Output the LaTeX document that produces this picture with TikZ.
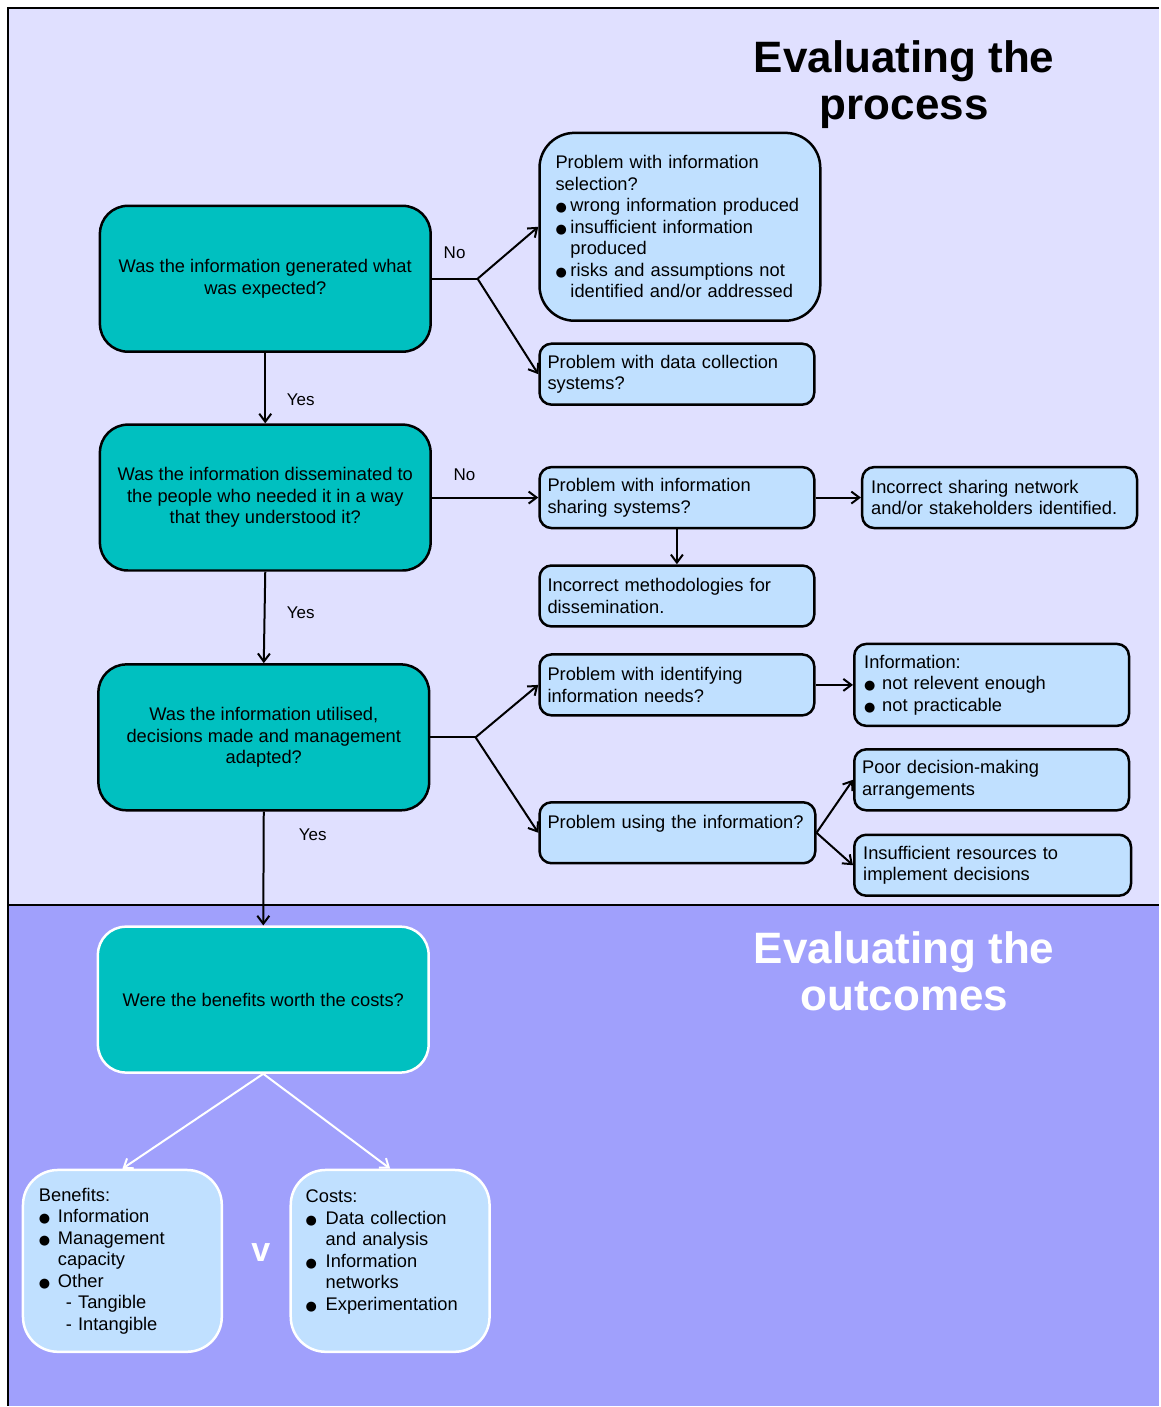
\documentclass[tikz,border=0pt]{standalone}
\usepackage{fontspec}
\setmainfont{Liberation Sans}
\newfontfamily\djv{DejaVu Sans}
\usetikzlibrary{arrows.meta}
\definecolor{upbg}{RGB}{224,224,255}
\definecolor{lowbg}{RGB}{160,160,252}
\definecolor{tealq}{RGB}{0,192,192}
\definecolor{lblue}{RGB}{192,224,255}
\newcommand\bl[1]{\makebox[#1][l]{\djv\fontsize{13}{13}\selectfont ●}}
\begin{document}
\begin{tikzpicture}[x=1pt,y=-1pt,
 body/.style={font=\fontsize{18.3}{21.5}\selectfont},
 qbox/.style={body, draw=black, line width=2.5pt, fill=tealq, rounded corners=28pt, minimum width=331pt, minimum height=146pt, align=center, inner sep=0pt},
 pbox/.style={body, draw=black, line width=2.5pt, fill=lblue, rounded corners=12pt, minimum height=61pt, align=left, inner ysep=0pt, text width=259pt, inner xsep=8pt},
 bbox/.style={body, draw=white, line width=2.5pt, fill=lblue, rounded corners=35pt, minimum height=182pt, align=left, inner ysep=0pt},
 conn/.style={line width=2pt},
 arr/.style={conn, -{Straight Barb[length=8pt,width=12pt]}},
 lbl/.style={font=\fontsize{17}{20}\selectfont},
 title/.style={font=\bfseries\fontsize{44}{47}\selectfont, align=center}
]
\fill[white] (0,0) rectangle (1160,1407);
\fill[upbg] (8,8) rectangle (1160,906);
\fill[lowbg] (8,906) rectangle (1160,1407);
\draw[line width=2.5pt] (8,1407) -- (8,8) -- (1160,8);
\draw[line width=2.5pt] (8,906) -- (1160,906);
\useasboundingbox (0,0) rectangle (1160,1407);

\node[title] (t1) at (905,85) {Evaluating the\\process};
\node[title, text=white] (t2) at (905,972) {Evaluating the\\outcomes};

\node[qbox] (q1) at (265.5,279) {Was the information generated what\\was expected?};
\node[qbox] (q2) at (265.5,498) {Was the information disseminated to\\the people who needed it in a way\\that they understood it?};
\node[qbox] (q3) at (264,738) {Was the information utilised,\\decisions made and management\\adapted?};
\node[qbox, draw=white] (q4) at (263.5,1000.5) {Were the benefits worth the costs?};

\node[pbox, rounded corners=35pt, text width=249pt, inner xsep=16pt, minimum height=188pt] (p1) at (680.5,227) {Problem with information\\selection?\\\bl{15pt}wrong information produced\\\bl{15pt}insufficient information\\\hspace*{15pt}produced\\\bl{15pt}risks and assumptions not\\\hspace*{15pt}identified and/or addressed};
\node[pbox] (p2) at (677.5,374.5) {Problem with data collection\\systems?};
\node[pbox] (p3) at (677.5,498) {Problem with information\\sharing systems?};
\node[pbox, text width=257pt, inner xsep=9pt] (p4) at (1000.5,498) {Incorrect sharing network\\and/or stakeholders identified.};
\node[pbox] (p5) at (677.5,596.5) {Incorrect methodologies for\\dissemination.};
\node[pbox] (p6) at (677.5,685.5) {Problem with identifying\\information needs?};
\node[pbox, text width=255pt, inner xsep=10pt, minimum height=82pt] (p7) at (992.5,685.5) {Information:\\\bl{18pt}not relevent enough\\\bl{18pt}not practicable};
\node[pbox, text width=260pt] (p8) at (678,833.5) {Problem using the information?\\\mbox{}};
\node[pbox] (p9) at (992.5,780.5) {Poor decision-making\\arrangements};
\node[pbox, text width=259pt, inner xsep=9pt] (p10) at (993.5,866) {Insufficient resources to\\implement decisions};

\node[bbox, text width=167pt, inner xsep=16pt] (b1) at (122.5,1262) {Benefits:\\\bl{19pt}Information\\\bl{19pt}Management\\\hspace*{19pt}capacity\\\bl{19pt}Other\\\hspace*{27pt}- Tangible\\\hspace*{27pt}- Intangible};
\node[bbox, text width=169pt, inner xsep=15pt] (b2) at (390.5,1262) {Costs:\\\bl{20pt}Data collection\\\hspace*{20pt}and analysis\\\bl{20pt}Information\\\hspace*{20pt}networks\\\bl{20pt}Experimentation\\\mbox{}};
\node[font=\bfseries\fontsize{34}{34}\selectfont, text=white] (vs) at (261,1254) {v};

\coordinate (j1) at (478,279);
\coordinate (j3) at (476,738);
\draw[conn] (q1.east) -- (j1);
\draw[arr] (j1) -- (p1.west);
\draw[arr] (j1) -- (p2.west);
\draw[arr] (q1.south) -- (q2.north);
\draw[arr] (q2.east) -- (p3.west);
\draw[arr] (q2.south) -- (q3.north);
\draw[conn] (q3.east) -- (j3);
\draw[arr] (j3) -- (p6.west);
\draw[arr] (j3) -- (p8.west);
\draw[arr] (q3.south) -- (q4.north);
\draw[arr] (p3.east) -- (p4.west);
\draw[arr] (p3.south) -- (p5.north);
\draw[arr] (p6.east) -- (p7.west);
\draw[arr] (p8.east) -- (p9.west);
\draw[arr] (p8.east) -- (p10.west);
\draw[arr, white] (q4.south) -- (b1.north);
\draw[arr, white] (q4.south) -- (b2.north);

\node[lbl] (no1) at (455,253) {No};
\node[lbl] (yes1) at (301,400) {Yes};
\node[lbl] (no2) at (465,475) {No};
\node[lbl] (yes2) at (301,613) {Yes};
\node[lbl] (yes3) at (313,835) {Yes};
\end{tikzpicture}
\end{document}
